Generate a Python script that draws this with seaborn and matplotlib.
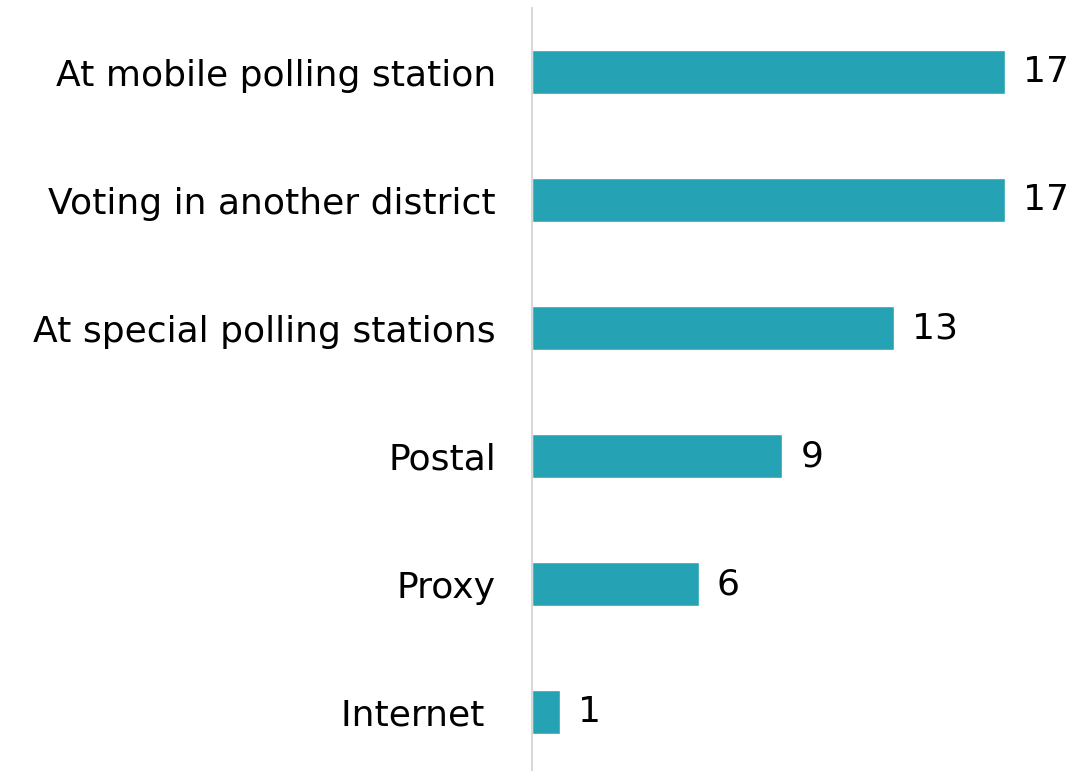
import matplotlib
matplotlib.use("Agg")
import matplotlib.pyplot as plt
import seaborn as sns
import pandas as pd

categories = ["At mobile polling station", "Voting in another district",
              "At special polling stations", "Postal", "Proxy", "Internet "]
values = [17, 17, 13, 9, 6, 1]

sns.set_style("white")
plt.rcParams['font.family'] = ['DejaVu Sans']

df = pd.DataFrame({"cat": categories, "val": values})

fig = plt.figure(figsize=(10.76, 7.71), dpi=100)
ax = fig.add_axes([532/1076, 0, 1 - 532/1076, 1 - 8/771])
sns.barplot(data=df, x="val", y="cat", color="#25A3B5", width=0.344,
            saturation=1, ax=ax, orient="h")
ax.set_xlim(0, (1076 - 532) / 27.82)
ax.set_ylim(5.46, -0.5)
for i, v in enumerate(values):
    ax.text(v + 18/27.82, i, str(v), va="center", ha="left", fontsize=26, color="#000000")
ax.set_xlabel("")
ax.set_ylabel("")
ax.set_xticks([])
ax.tick_params(axis="y", length=0, pad=26, labelsize=26, labelcolor="#000000")
for s in ["top", "right", "bottom"]:
    ax.spines[s].set_visible(False)
ax.spines["left"].set_color("#d9d9d9")
ax.spines["left"].set_linewidth(1.5)
fig.savefig("out.png", dpi=100)
